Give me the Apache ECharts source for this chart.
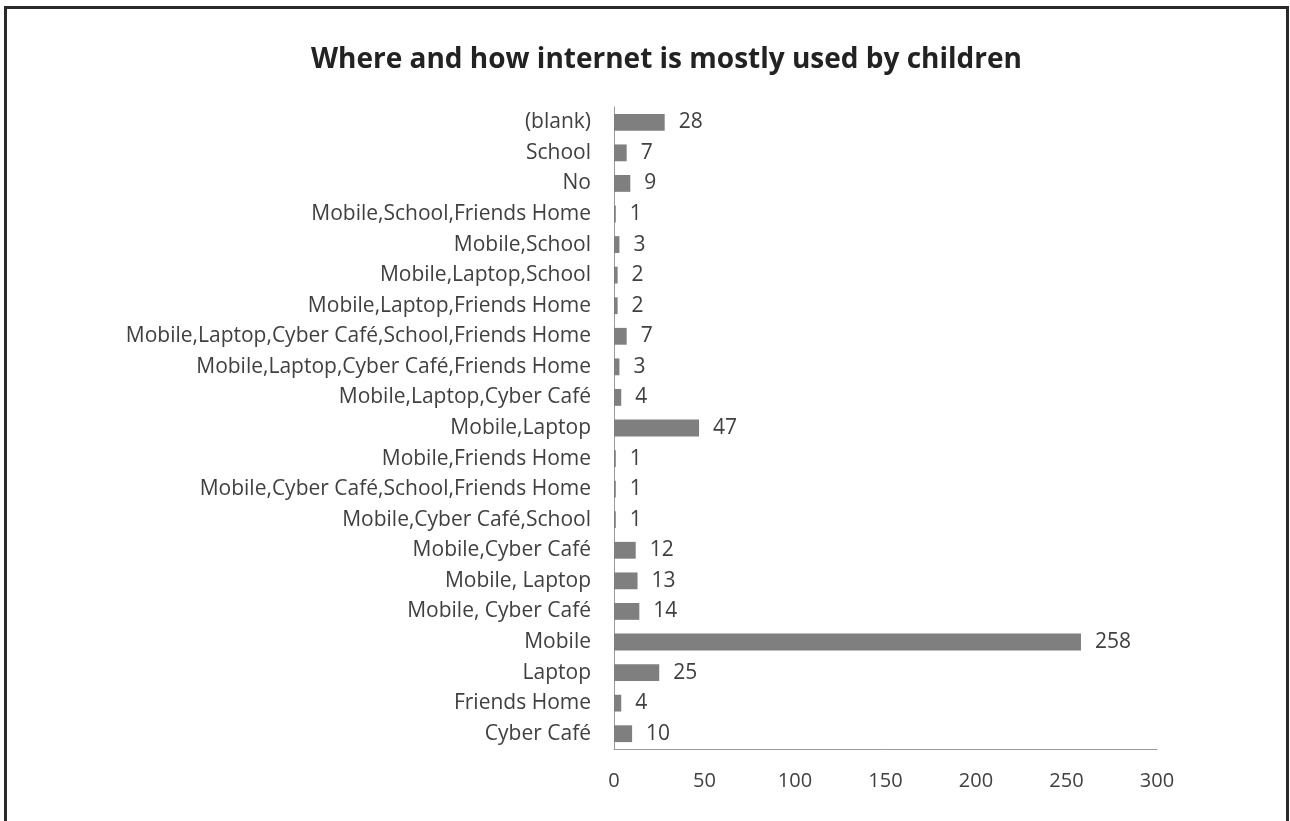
<!DOCTYPE html>
<html>
<head>
<meta charset="utf-8">
<script src="https://cdn.jsdelivr.net/npm/echarts@6/dist/echarts.min.js"></script>
<style>
  html, body { margin: 0; padding: 0; background: #fff; }
  #chart { width: 1290px; height: 821px; }
</style>
</head>
<body>
<div id="chart"></div>
<script>
// Categories listed bottom to top (ECharts draws the first category at the bottom)
const categories = [
  'Cyber Café',
  'Friends Home',
  'Laptop',
  'Mobile',
  'Mobile, Cyber Café',
  'Mobile, Laptop',
  'Mobile,Cyber Café',
  'Mobile,Cyber Café,School',
  'Mobile,Cyber Café,School,Friends Home',
  'Mobile,Friends Home',
  'Mobile,Laptop',
  'Mobile,Laptop,Cyber Café',
  'Mobile,Laptop,Cyber Café,Friends Home',
  'Mobile,Laptop,Cyber Café,School,Friends Home',
  'Mobile,Laptop,Friends Home',
  'Mobile,Laptop,School',
  'Mobile,School',
  'Mobile,School,Friends Home',
  'No',
  'School',
  '(blank)'
];
const counts = [10, 4, 25, 258, 14, 13, 12, 1, 1, 1, 47, 4, 3, 7, 2, 2, 3, 1, 9, 7, 28];
const xTicks = { min: 0, max: 300, interval: 50 };

const FONT = '"Open Sans", sans-serif';
const chart = echarts.init(document.getElementById('chart'), null, { renderer: 'canvas' });
chart.setOption({
  animation: false,
  backgroundColor: '#ffffff',
  title: {
    text: 'Where and how internet is mostly used by children',
    left: 306,
    top: 41,
    textStyle: { fontFamily: FONT, fontSize: 28, fontWeight: 'bold', color: '#222222' }
  },
  graphic: [{
    type: 'rect',
    shape: { x: 5.5, y: 7.5, width: 1282, height: 900 },
    style: { fill: 'none', stroke: '#2a2a2a', lineWidth: 3 },
    silent: true
  }],
  grid: { left: 614, right: 133, top: 107, bottom: 72, containLabel: false },
  xAxis: {
    type: 'value',
    min: xTicks.min, max: xTicks.max, interval: xTicks.interval,
    axisLine: { show: true, lineStyle: { color: '#9a9a9a', width: 1 } },
    axisTick: { show: false },
    splitLine: { show: false },
    axisLabel: { fontFamily: FONT, fontSize: 20, color: '#404040', margin: 22 }
  },
  yAxis: {
    type: 'category',
    data: categories,
    axisLine: { show: true, lineStyle: { color: '#9a9a9a', width: 1 } },
    axisTick: { show: false },
    axisLabel: { fontFamily: FONT, fontSize: 21, color: '#404040', margin: 23, interval: 0 }
  },
  series: [{
    type: 'bar',
    data: counts,
    barCategoryGap: '45%',
    itemStyle: { color: '#7f7f7f' },
    label: {
      show: true,
      position: 'right',
      distance: 14,
      fontFamily: FONT,
      fontSize: 21,
      color: '#404040'
    }
  }]
});
</script>
</body>
</html>
